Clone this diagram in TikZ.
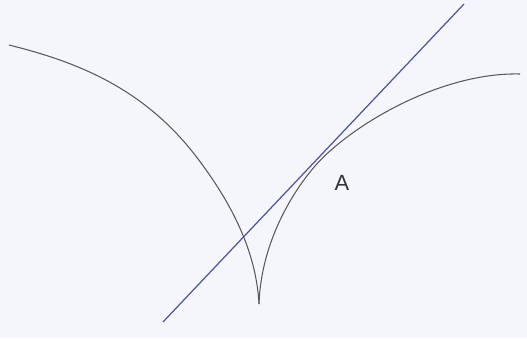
\documentclass[tikz,border=0pt]{standalone}
\usepackage{fontspec}
\setmainfont{Liberation Sans}
\definecolor{bgpaper}{RGB}{245,246,251}
\definecolor{tanblue}{RGB}{80,85,155}
\begin{document}
\begin{tikzpicture}[x=0.02cm,y=-0.02cm,
  curve/.style={draw=black!65,line width=0.6pt},
  tangent/.style={draw=tanblue,line width=0.7pt}]
\fill[bgpaper] (0,0) rectangle (527,338);
\useasboundingbox (0,0) rectangle (527,338);
\coordinate (cusp) at (259,304);
\coordinate (l0) at (9,45);
\coordinate (l1) at (195,155);
\coordinate (r1) at (315,166);
\coordinate (r2) at (520,74);
\draw[curve] (l0) .. controls (69,60) and (140,84) .. (l1)
  .. controls (225,194) and (256,245) .. (cusp);
\draw[curve] (cusp) .. controls (261,245) and (290,195) .. (r1)
  .. controls (350,126) and (440,72) .. (r2);
\coordinate (p1) at (163,322);
\coordinate (p2) at (464,4);
\draw[tangent] (p1) -- (p2);
\node[font=\fontsize{12.5}{14}\selectfont,text=black!80] (A) at (342,183) {A};
\end{tikzpicture}
\end{document}
